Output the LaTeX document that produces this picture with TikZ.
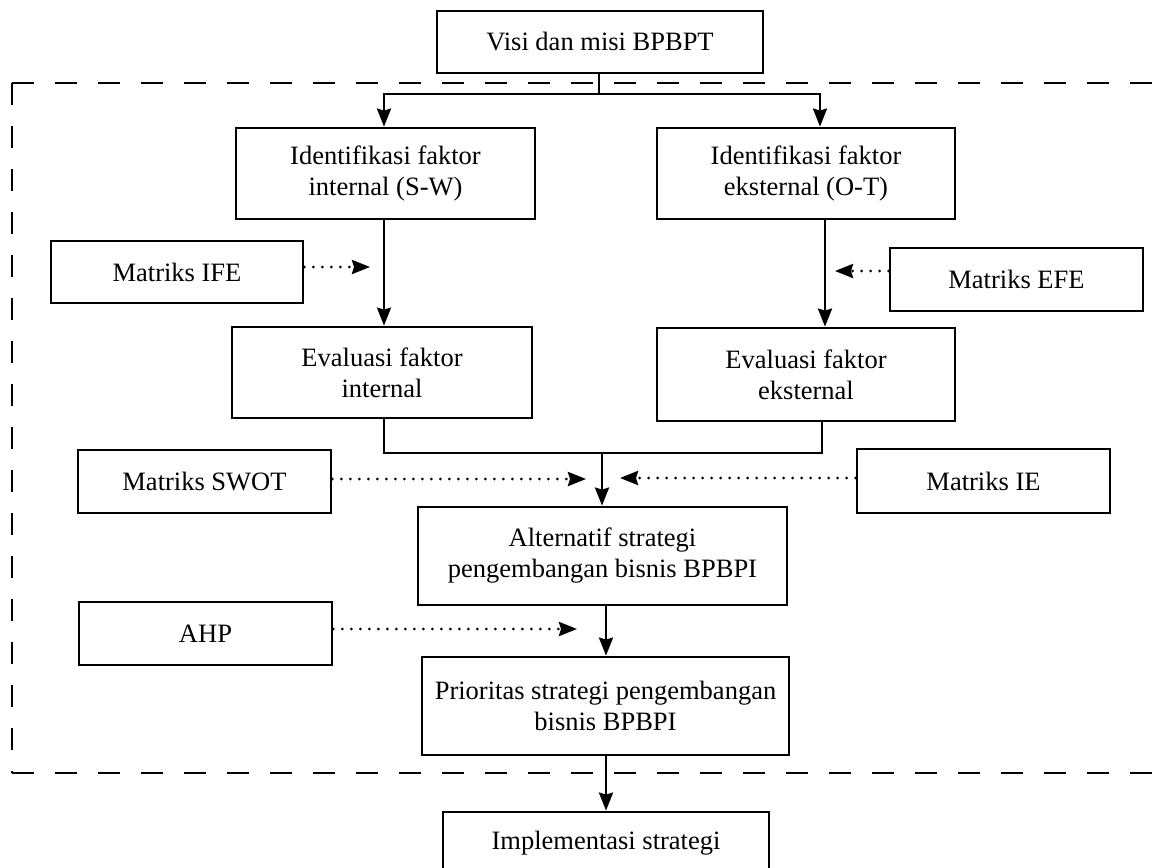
\documentclass[tikz,border=0pt]{standalone}
\usepackage{fontspec}
\setmainfont{Liberation Serif}
\usetikzlibrary{arrows.meta,calc}
\begin{document}
\begin{tikzpicture}[x=1pt,y=-1pt,
  box/.style={draw, line width=2.8pt, align=center, inner sep=0pt, font=\fontsize{26.5}{31}\selectfont},
  conn/.style={line width=2.6pt},
  arr/.style={conn, -{Stealth[length=18pt,width=14pt,inset=2pt]}},
  dotarr/.style={line width=3pt, line cap=round, dash pattern=on 0pt off 9pt, -{Stealth[length=18pt,width=14pt,inset=2pt]}},
  dashbox/.style={line width=2.8pt, dash pattern=on 22pt off 21pt}]
\clip (0,0) rectangle (1171,868);
\fill[white] (0,0) rectangle (1171,868);

% dashed frame
\draw[dashbox] (12,83) -- (1180,83);
\draw[dashbox] (12,83) -- (12,773);
\draw[dashbox] (12,773) -- (1180,773);

% nodes
\node[box, minimum width=326pt, minimum height=62pt] (visi) at (600,42) {Visi dan misi BPBPT};
\node[box, minimum width=299pt, minimum height=91pt] (idint) at (385.5,173.5) {Identifikasi faktor\\internal (S-W)};
\node[box, minimum width=298pt, minimum height=91pt] (idext) at (806,173.5) {Identifikasi faktor\\eksternal (O-T)};
\node[box, minimum width=252pt, minimum height=62pt] (ife) at (177,272) {Matriks IFE};
\node[box, minimum width=253pt, minimum height=63pt] (efe) at (1016.5,279.5) {Matriks EFE};
\node[box, minimum width=300pt, minimum height=91pt] (evint) at (382,372.5) {Evaluasi faktor\\internal};
\node[box, minimum width=298pt, minimum height=93pt] (evext) at (806,374.5) {Evaluasi faktor\\eksternal};
\node[box, minimum width=253pt, minimum height=63pt] (swot) at (204.5,481.5) {Matriks SWOT};
\node[box, minimum width=253pt, minimum height=64pt] (ie) at (983.5,481) {Matriks IE};
\node[box, minimum width=369pt, minimum height=98pt] (alt) at (602.5,556) {Alternatif strategi\\pengembangan bisnis BPBPI};
\node[box, minimum width=253pt, minimum height=63pt] (ahp) at (205.5,633.5) {AHP};
\node[box, minimum width=367pt, minimum height=98pt] (prio) at (605.5,706) {Prioritas strategi pengembangan\\bisnis BPBPI};
\node[box, minimum width=326pt, minimum height=62pt] (impl) at (606,843) {Implementasi strategi};

% helper coordinates
\coordinate (br) at (599,94);
\coordinate (colI) at (384,0);
\coordinate (colEt) at (820,0);
\coordinate (colE) at (825,0);
\coordinate (colEb) at (822,0);
\coordinate (jn) at (602,453);
\coordinate (colM) at (606,0);
\coordinate (ifeT) at (370,267);
\coordinate (efeT) at (835,271);
\coordinate (swotT) at (586,479);
\coordinate (ieT) at (620,478);
\coordinate (ahpT) at (577,629);

% connectors
\draw[conn] (visi.south -| br) -- (br);
\draw[arr] (br) -| (idint.north -| colI);
\draw[arr] (br) -| (idext.north -| colEt);
\draw[arr] (idint.south -| colI) -- (evint.north -| colI);
\draw[arr] (idext.south -| colE) -- (evext.north -| colE);
\draw[conn] (evint.south -| colI) |- (jn) -| (evext.south -| colEb);
\draw[arr] (jn) -- (alt.north -| jn);
\draw[arr] (alt.south -| colM) -- (prio.north -| colM);
\draw[arr] (prio.south -| colM) -- (impl.north -| colM);

\draw[dotarr] (ife.east |- ifeT) -- (ifeT);
\draw[dotarr] (efe.west |- efeT) -- (efeT);
\draw[dotarr] (swot.east |- swotT) -- (swotT);
\draw[dotarr] (ie.west |- ieT) -- (ieT);
\draw[dotarr] (ahp.east |- ahpT) -- (ahpT);
\end{tikzpicture}
\end{document}
